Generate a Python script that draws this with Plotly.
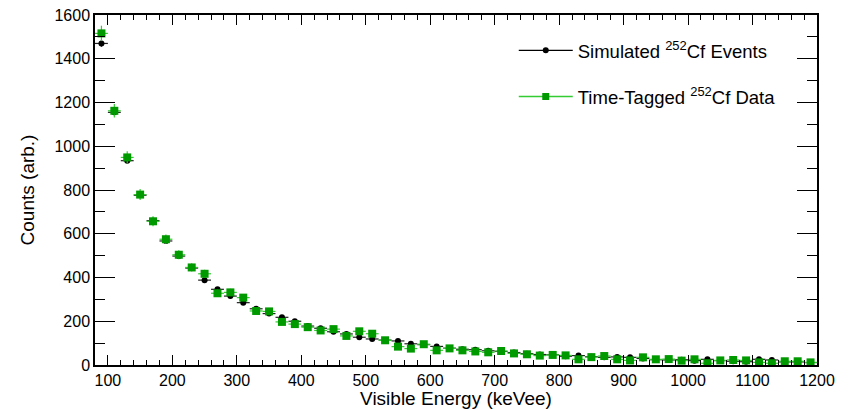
import numpy as np
import plotly.graph_objects as go

# Bin centers (keVee), 20 keV bins from 80 to 1200
energy = list(range(90, 1200, 20))

sim_counts = [1470, 1155, 934, 776, 660, 567, 498, 443, 388, 346, 315, 285, 257, 235,
              218, 200, 178, 168, 152, 142, 127, 119, 114, 110, 97, 93, 85, 77, 72, 70,
              65, 62, 57, 52, 48, 47, 40, 43, 38, 35, 37, 35, 30, 24, 23, 24, 20, 26,
              20, 17, 15, 26, 23, 14, 14, 11]

data_counts = [1516, 1162, 949, 779, 657, 575, 504, 446, 417, 328, 332, 308, 247, 245,
               197, 187, 173, 158, 164, 133, 154, 143, 113, 84, 75, 95, 67, 76, 67, 62,
               58, 64, 53, 49, 43, 46, 44, 26, 36, 41, 26, 21, 35, 26, 27, 20, 26, 8,
               21, 23, 21, 12, 8, 17, 17, 12]

bin_half_width = [10] * len(energy)
data_err = list(np.sqrt(np.array(data_counts, dtype=float)) * 0.9)
sim_err = list(np.sqrt(np.array(sim_counts, dtype=float)) * 0.4)

legend_labels = ["Simulated <sup>252</sup>Cf Events", "Time-Tagged <sup>252</sup>Cf Data"]

GREEN_MARK = "#009900"
GREEN_LINE = "#33cc33"
FONT = "Liberation Sans, Arial, Helvetica, sans-serif"

fig = go.Figure()

fig.add_trace(go.Scatter(
    x=energy, y=sim_counts, mode="markers", showlegend=False,
    marker=dict(symbol="circle", size=6, color="black"),
    error_x=dict(type="data", array=bin_half_width, color="#222222", thickness=1.2, width=0),
    error_y=dict(type="data", array=sim_err, color="#222222", thickness=1.2, width=0),
))
fig.add_trace(go.Scatter(
    x=energy, y=data_counts, mode="markers", showlegend=False,
    marker=dict(symbol="square", size=8, color=GREEN_MARK),
    error_x=dict(type="data", array=bin_half_width, color=GREEN_LINE, thickness=1.2, width=0),
    error_y=dict(type="data", array=data_err, color=GREEN_LINE, thickness=1.2, width=0),
))

# Legend entries
fig.add_trace(go.Scatter(
    x=[None], y=[None], mode="lines+markers", name=legend_labels[0], legendgroup="a",
    line=dict(color="black", width=1.2),
    marker=dict(symbol="circle", size=6, color="black"),
))
fig.add_trace(go.Scatter(
    x=[None], y=[None], mode="lines+markers", name=legend_labels[1], legendgroup="b",
    line=dict(color=GREEN_LINE, width=1.5),
    marker=dict(symbol="square", size=7, color=GREEN_MARK),
))

axis_common = dict(
    showgrid=False, zeroline=False, showline=True, linecolor="black", linewidth=1.5,
    mirror="ticks", ticks="inside", tickcolor="black", tickwidth=1, automargin=False,
    tickfont=dict(family=FONT, size=16, color="black"),
)

fig.update_xaxes(
    **axis_common, range=[80, 1200], tick0=0, dtick=100, ticklen=10,
    minor=dict(dtick=20, tick0=0, ticks="inside", ticklen=5, tickcolor="black", showgrid=False),
    title=dict(text="Visible Energy (keVee)", font=dict(family=FONT, size=19, color="black"), standoff=4),
)
fig.update_yaxes(
    **axis_common, range=[0, 1600], tick0=0, dtick=200, ticklen=20,
    minor=dict(dtick=100, tick0=0, ticks="inside", ticklen=10, tickcolor="black", showgrid=False),
    title=dict(text="Counts (arb.)", font=dict(family=FONT, size=19, color="black"), standoff=15),
)

fig.update_layout(
    width=850, height=409,
    margin=dict(l=95, r=33, t=15, b=44, autoexpand=False),
    paper_bgcolor="white", plot_bgcolor="white",
    font=dict(family=FONT, color="black"),
    legend=dict(
        x=0.58, y=0.952, xanchor="left", yanchor="top",
        bgcolor="rgba(0,0,0,0)", borderwidth=0,
        font=dict(family=FONT, size=18.5, color="black"),
        itemwidth=54, tracegroupgap=19, traceorder="grouped",
    ),
)

# Remove the default page margin so the figure sits at the window's corner.
fig.write_html("out.html", config={"displayModeBar": False},
               post_script="document.body.style.margin='0';")
